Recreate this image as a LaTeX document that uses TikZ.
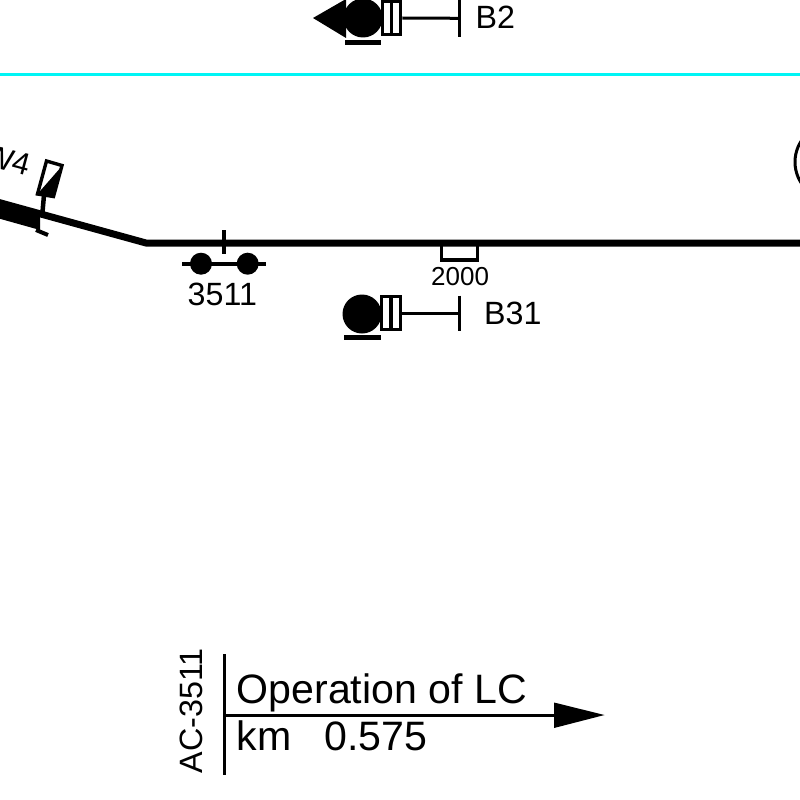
\documentclass[tikz,border=0pt]{standalone}
\usepackage{fontspec}
\setmainfont{Liberation Sans}
\definecolor{sepcyan}{RGB}{0,245,245}
\tikzset{
  lbl/.style={inner sep=0pt,font=\fontsize{32.2}{32.2}\selectfont,anchor=base west},
  biglbl/.style={lbl,font=\fontsize{41.1}{41.1}\selectfont},
  thin line/.style={line width=3pt,black},
  trackline/.style={line width=7pt,black,line cap=butt,line join=miter},
  solid dot/.style={circle,fill=black,inner sep=0pt,minimum size=#1},
  signal head/.style={draw=black,line width=3pt,fill=white,minimum width=18.7pt,minimum height=33pt,inner sep=0pt}
}
\begin{document}
\begin{tikzpicture}[x=1pt,y=-1pt]
\useasboundingbox (0,0) rectangle (800,800);
\clip (0,0) rectangle (800,800);
% boundary line
\coordinate (cl) at (0,74.7);
\coordinate (cr) at (800,74.7);
\draw[line width=2.8pt,color=sepcyan] (cl) -- (cr);
% track
\coordinate (tl) at (-10,200);
\coordinate (tk) at (146,243);
\coordinate (tr) at (810,243);
\draw[trackline] (tl) -- (tk) -- (tr);
\fill[black] (-10,197) -- (40,211) -- (40,230) -- (-10,216) -- cycle;
% end mark at points
\coordinate (pa) at (36,230);
\coordinate (pb) at (48,235);
\draw[line width=4pt] (pa) -- (pb);
% W4 signal
\node[rotate=-15,inner sep=0pt,font=\fontsize{31}{31}\selectfont] (w4) at (7.5,160) {W4};
\coordinate (ws) at (42.5,212);
\coordinate (wh) at (44,195);
\draw[line width=4.5pt] (ws) -- (wh);
\draw[line width=3.4pt,fill=white] (46.5,161) -- (62,165.5) -- (53.5,196.5) -- (37.5,194) -- cycle;
\fill (62,166) -- (53.5,196.5) -- (37.5,194) -- cycle;
% B2 signal
\node[solid dot=39pt] (b2d) at (363,18) {};
\fill (313,18) -- (346,-1) -- (346,38) -- cycle;
\fill (345,40.5) rectangle (381,45.5);
\node[signal head] (b2h) at (391.5,18) {};
\draw[line width=3.6pt] (b2h.north) -- (b2h.south);
\coordinate (b2e) at (459.3,18.3);
\draw[thin line] (b2h.east) -- (b2e);
\draw[line width=3pt] (459.3,-1) -- (459.3,36.7);
\node[lbl] (b2t) at (475.5,28.5) {B2};
% level crossing 3511
\coordinate (lct) at (224,230);
\coordinate (lcb) at (224,254);
\draw[line width=4pt] (lct) -- (lcb);
\node[solid dot=22pt] (d1) at (201,263.7) {};
\node[solid dot=22pt] (d2) at (247.7,263.7) {};
\coordinate (ll) at (182,264);
\coordinate (lr) at (266,264);
\draw[line width=4pt] (ll) -- (lr);
\node[lbl] (n3511) at (187.5,305) {3511};
% balise 2000
\draw[line width=3.4pt] (441.7,245) -- (441.7,260) -- (477.3,260) -- (477.3,245);
\node[lbl,font=\fontsize{26}{26}\selectfont] (n2000) at (431,285) {2000};
% B31 signal
\node[solid dot=39pt] (b31d) at (362,314) {};
\fill (344,335) rectangle (381,340);
\node[signal head] (b31h) at (391,313.2) {};
\draw[line width=3.6pt] (b31h.north) -- (b31h.south);
\coordinate (b31e) at (459.3,313.2);
\draw[thin line] (b31h.east) -- (b31e);
\draw[line width=3pt] (459.3,295.5) -- (459.3,331);
\node[lbl] (b31t) at (484,324) {B31};
% right circle
\node[draw,circle,line width=3pt,minimum size=77pt,inner sep=0pt] (circ) at (833.5,162) {};
% operation panel
\coordinate (vt) at (224,654);
\coordinate (vb) at (224,775);
\draw[line width=3pt] (vt) -- (vb);
\coordinate (as) at (224,715);
\coordinate (ae) at (555,715);
\draw[line width=3pt] (as) -- (ae);
\fill (554,702.5) -- (604.5,715) -- (554,728) -- cycle;
\node[biglbl] (op) at (236.5,703) {Operation of LC};
\node[biglbl] (km) at (236.5,750.5) {km};
\node[biglbl] (kmv) at (324,750.5) {0.575};
\node[lbl,font=\fontsize{32.3}{32.3}\selectfont,rotate=90] (ac) at (202,773.5) {AC-3511};
\end{tikzpicture}
\end{document}
